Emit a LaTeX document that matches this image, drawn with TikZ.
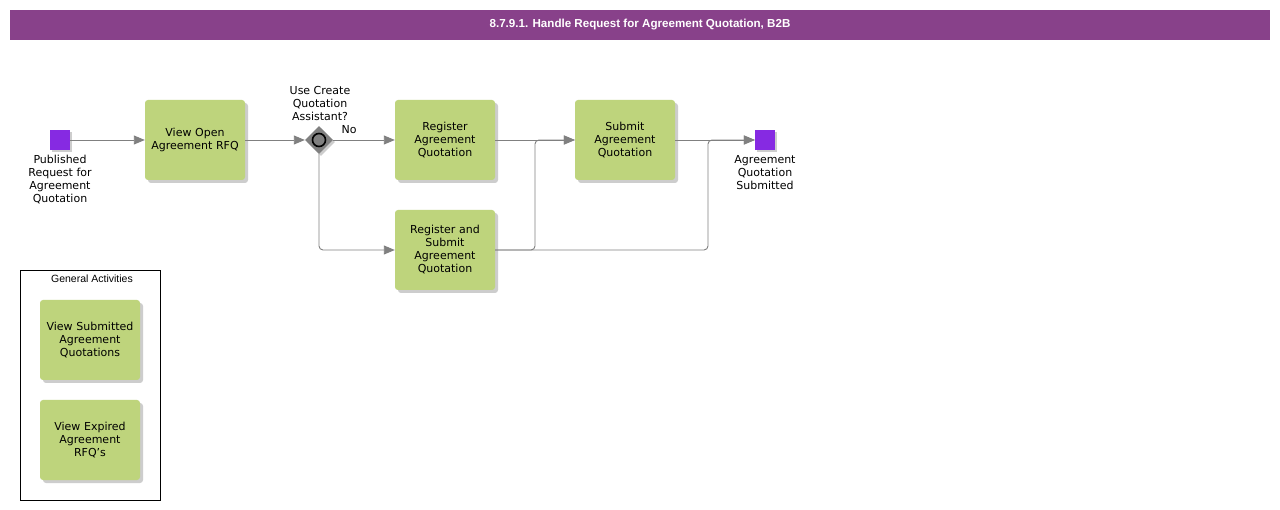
\documentclass[tikz,border=0pt]{standalone}
\usepackage{fontspec}
\setmainfont{DejaVu Sans}
\newfontfamily\titlefont{Liberation Sans}
\usetikzlibrary{shadows,shapes.geometric,arrows.meta}
\definecolor{titlepurple}{RGB}{136,65,138}
\definecolor{evpurple}{RGB}{134,42,226}
\definecolor{taskgreen}{RGB}{190,212,124}
\definecolor{linegray}{RGB}{128,128,128}
\definecolor{shadowgray}{RGB}{205,205,205}
\tikzset{
  task/.style={rectangle, rounded corners=3pt, fill=taskgreen, minimum width=100pt, minimum height=80pt,
    inner sep=0pt, text width=98pt, align=center, font=\fontsize{11}{13}\selectfont,
    drop shadow={shadow xshift=3pt, shadow yshift=-3pt, fill=shadowgray, opacity=1}},
  event/.style={rectangle, fill=evpurple, minimum size=20pt, inner sep=0pt,
    drop shadow={shadow xshift=2pt, shadow yshift=-2pt, fill=shadowgray, opacity=1}},
  lbl/.style={align=center, font=\fontsize{11}{13}\selectfont, inner sep=0pt},
  flow/.style={draw=linegray, line width=0.9pt, rounded corners=4pt, -{Triangle[length=11pt,width=9pt]}}
}
\begin{document}
\begin{tikzpicture}[x=1pt,y=-1pt]
\useasboundingbox (0,0) rectangle (1280,510);
\fill[white] (0,0) rectangle (1280,510);
% title
\node[fill=titlepurple, minimum width=1260pt, minimum height=30pt, inner sep=0pt,
  text=white, font=\titlefont\bfseries\fontsize{11.6}{13}\selectfont] (title) at (640,25)
  {8.7.9.1. Handle Request for Agreement Quotation, B2B};
% general activities box
\node[draw=black, line width=0.8pt, minimum width=140pt, minimum height=230pt, inner sep=0pt] (gen) at (90,385) {};
\node[font=\titlefont\fontsize{10.5}{12}\selectfont, inner sep=0pt] (genlbl) at (92,279) {General Activities};
\node[task] (vsub) at (90,340) {View Submitted\\Agreement\\Quotations};
\node[task] (vexp) at (90,440) {View Expired\\Agreement\\RFQ's};
% events
\node[event] (start) at (60,140) {};
\node[lbl, anchor=north] (startlbl) at (60,155) {Published\\Request for\\Agreement\\Quotation};
\node[event] (end) at (765,140) {};
\node[lbl, anchor=north] (endlbl) at (765,155) {Agreement\\Quotation\\Submitted};
% tasks
\node[task] (vopen) at (195,140) {View Open\\Agreement RFQ};
\node[task] (reg) at (445,140) {Register\\Agreement\\Quotation};
\node[task] (regsub) at (445,250) {Register and\\Submit\\Agreement\\Quotation};
\node[task] (sub) at (625,140) {Submit\\Agreement\\Quotation};
% gateway
\node[diamond, fill=linegray, minimum width=28pt, minimum height=28pt, inner sep=0pt,
  drop shadow={shadow xshift=2pt, shadow yshift=-2pt, fill=shadowgray, opacity=1}] (gw) at (319,140) {};
\node[circle, draw=black, line width=1.6pt, fill=linegray, minimum size=13pt, inner sep=0pt] (gwc) at (319,140) {};
\node[lbl, anchor=south] (gwlbl) at (320,121) {Use Create\\Quotation\\Assistant?};
\node[lbl] (nolbl) at (349,130) {No};
% flows
\draw[flow] (start) -- (vopen);
\draw[flow] (vopen) -- (gw);
\draw[flow] (gw) -- (reg);
\draw[flow] (gw.south) |- (regsub.west);
\draw[flow] (reg) -- (sub);
\draw[flow] (regsub.east) -- (535,250) -- (535,140) -- (sub.west);
\draw[flow] (sub) -- (end);
\draw[flow] (regsub.east) -- (708,250) -- (708,140) -- (end.west);
\end{tikzpicture}
\end{document}
